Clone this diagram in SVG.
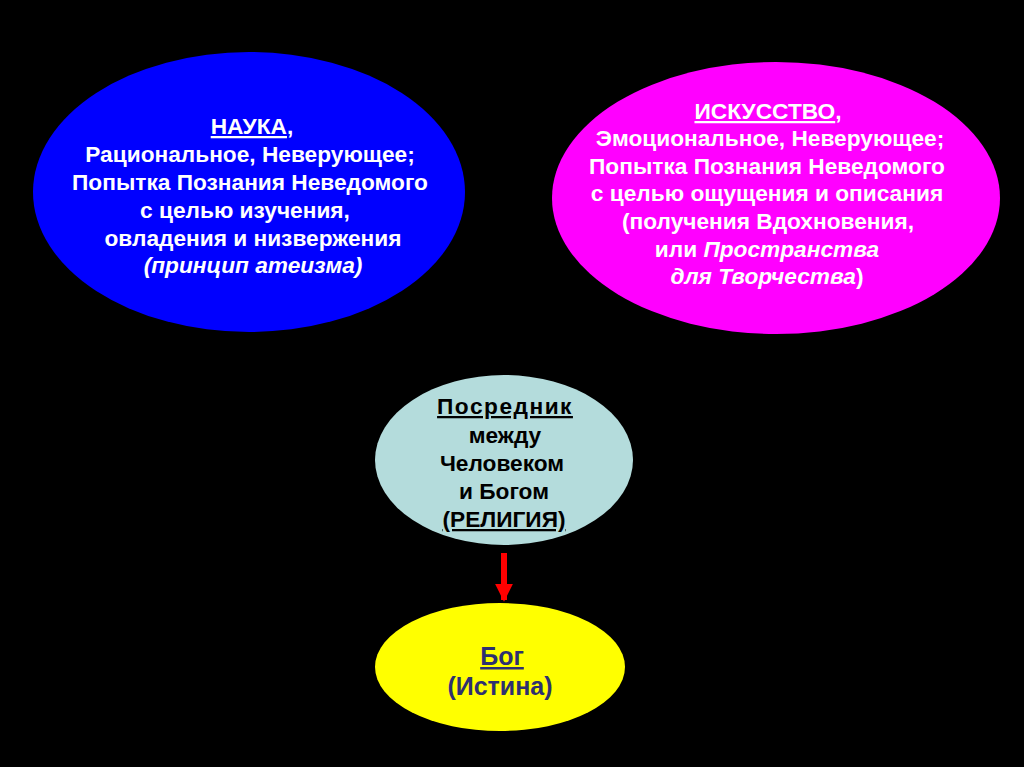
<svg xmlns="http://www.w3.org/2000/svg" width="1024" height="767" viewBox="0 0 1024 767">
<defs>
<style>
text{font-family:"Liberation Sans",Arial,sans-serif;font-weight:bold;text-anchor:middle;font-size:22.7px}
.w{fill:#ffffff}
.k{fill:#000000}
.n{fill:#2e3070;font-size:25px}
.i{font-style:italic}
.u{text-decoration:underline}
.ls{letter-spacing:1.5px}
</style>
<marker id="ah" viewBox="0 0 10 10" refX="9" refY="5" markerWidth="3" markerHeight="3" orient="auto" markerUnits="strokeWidth">
<path d="M0,0 L10,5 L0,10 z" fill="#ff0000"/>
</marker>
</defs>
<rect width="1024" height="767" fill="#000000"/>
<g id="nauka">
<ellipse cx="249" cy="192" rx="216" ry="140" fill="#0000ff"/>
<text class="w" x="252" y="134"><tspan class="u">НАУКА</tspan>,</text>
<text class="w" x="250" y="162">Рациональное, Неверующее;</text>
<text class="w" x="250" y="190">Попытка Познания Неведомого</text>
<text class="w" x="245" y="218">с целью изучения,</text>
<text class="w" x="253" y="246">овладения и низвержения</text>
<text class="w i" x="253" y="273">(принцип атеизма)</text>
</g>
<g id="iskusstvo">
<ellipse cx="776" cy="198" rx="224" ry="136" fill="#ff00ff"/>
<text class="w" x="768" y="119"><tspan class="u">ИСКУССТВО</tspan>,</text>
<text class="w" x="770" y="146">Эмоциональное, Неверующее;</text>
<text class="w" x="767" y="174">Попытка Познания Неведомого</text>
<text class="w" x="767" y="201">с целью ощущения и описания</text>
<text class="w" x="768" y="229">(получения Вдохновения,</text>
<text class="w" x="767" y="257">или <tspan class="i">Пространства</tspan></text>
<text class="w" x="767" y="284"><tspan class="i">для Творчества</tspan>)</text>
</g>
<g id="religiya">
<ellipse cx="504" cy="460" rx="129" ry="85" fill="#b4dcdc"/>
<text class="k u ls" x="505" y="414">Посредник </text>
<text class="k" x="505" y="443">между</text>
<text class="k" x="502" y="471">Человеком</text>
<text class="k" x="504" y="499">и Богом</text>
<text class="k u" x="504" y="527">(РЕЛИГИЯ)</text>
</g>
<g id="bog">
<ellipse cx="500" cy="667" rx="125" ry="64" fill="#ffff00"/>
<text class="n u" x="502" y="665">Бог</text>
<text class="n" x="500" y="695">(Истина)</text>
</g>
<g id="connectors">
<line x1="504" y1="553" x2="504" y2="600" stroke="#ff0000" stroke-width="6" marker-end="url(#ah)"/>
</g>
</svg>
